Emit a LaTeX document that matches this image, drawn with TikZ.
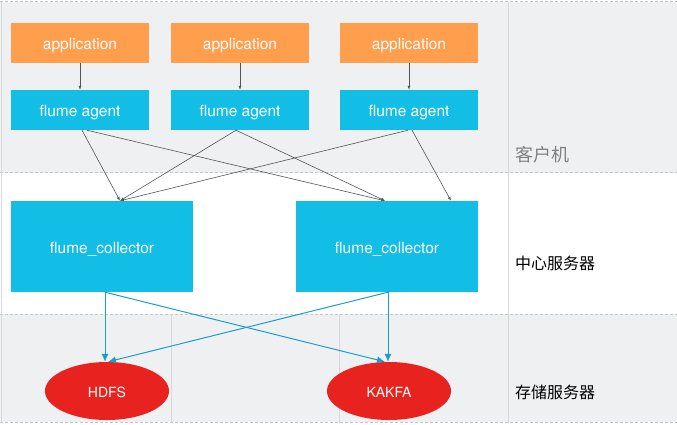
\documentclass[tikz,border=0pt]{standalone}
\usepackage{fontspec}
\setmainfont{TeX Gyre Heros}
\newfontfamily\cjk{Noto Sans CJK SC}
\usetikzlibrary{arrows.meta, shapes.geometric}
\definecolor{bandgray}{HTML}{EFF0F2}
\definecolor{apporange}{HTML}{FF9F4D}
\definecolor{flumeblue}{HTML}{12BDE6}
\definecolor{storered}{HTML}{E8231F}
\definecolor{linkblue}{HTML}{1A9FCB}
\definecolor{linkgray}{HTML}{555555}
\definecolor{rulegray}{HTML}{C8C8C8}

\begin{document}
\begin{tikzpicture}[x = 1pt, y = -1pt, >= {Latex[length = 4pt, width = 3pt]},
    appbox/.style = {fill = apporange, text = white, minimum width = 138pt, minimum height = 40pt, inner sep = 0pt, text height = 13pt, text depth = 0pt, font = \fontsize{15.5}{18}\selectfont},
    agentbox/.style = {appbox, fill = flumeblue},
    collbox/.style = {agentbox, minimum width = 182pt, minimum height = 91pt},
    storenode/.style = {ellipse, fill = storered, text = white, minimum width = 124pt, minimum height = 58pt, inner sep = 0pt, text height = 12pt, text depth = 0pt, font = \fontsize{14}{16}\selectfont},
    zonelabel/.style = {anchor = west, inner sep = 0pt, font = \cjk\fontsize{16}{18}\selectfont},
    sepline/.style = {rulegray, dash pattern = on 3pt off 2pt},
    agentlink/.style = {->, linkgray, line width = .6pt},
    colllink/.style = {->, linkblue, line width = 1pt, >= {Latex[length = 8pt, width = 7pt]}}]

    \useasboundingbox (0, 0) rectangle (677, 424);
    \fill [bandgray] (0, 1.5) rectangle (677, 172.5);
    \fill [bandgray] (0, 314) rectangle (677, 422);
    \draw [sepline] (0, 1.5) -- (677, 1.5);
    \draw [sepline] (0, 172.5) -- (677, 172.5);
    \draw [sepline] (0, 314) -- (677, 314);
    \draw [sepline] (0, 422.5) -- (677, 422.5);
    \draw [gray!30] (1, 1.5) -- (1, 422.5);
    \draw [gray!30] (508, 1.5) -- (508, 422.5);
    \draw [gray!30] (171, 314) -- (171, 422.5);
    \draw [gray!30] (339, 314) -- (339, 422.5);

    \node [appbox] (app1) at (80, 43) {application};
    \node [appbox] (app2) at (240, 43) {application};
    \node [appbox] (app3) at (409, 43) {application};
    \node [agentbox] (agent1) at (80, 110) {flume agent};
    \node [agentbox] (agent2) at (240, 110) {flume agent};
    \node [agentbox] (agent3) at (409, 110) {flume agent};
    \node [collbox] (coll1) at (102, 246.5) {flume\_collector};
    \node [collbox] (coll2) at (387, 246.5) {flume\_collector};
    \node [storenode] (hdfs) at (107, 391) {HDFS};
    \node [storenode] (kakfa) at (389, 391) {KAKFA};

    \node [zonelabel, text = black!50, font = \cjk\fontsize{18}{20}\selectfont] (client) at (515, 155) {客户机};
    \node [zonelabel] (center) at (515, 263) {中心服务器};
    \node [zonelabel] (storage) at (515, 392) {存储服务器};

    \draw [agentlink] (app1) -- (agent1);
    \draw [agentlink] (app2) -- (agent2);
    \draw [agentlink] (app3) -- (agent3);

    \draw [agentlink] ([xshift = 2]agent1.south) -- ([xshift = 18]coll1.north);
    \draw [agentlink] ([xshift = 7]agent1.south) -- ([xshift = -2]coll2.north);
    \draw [agentlink] ([xshift = -4]agent2.south) -- ([xshift = 18]coll1.north);
    \draw [agentlink] ([xshift = -4]agent2.south) -- ([xshift = -2]coll2.north);
    \draw [agentlink] ([xshift = -1]agent3.south) -- ([xshift = 18]coll1.north);
    \draw [agentlink] ([xshift = 3]agent3.south) -- ([xshift = 64]coll2.north);

    \coordinate (out1) at ([xshift = 3]coll1.south);
    \coordinate (out2) at ([xshift = 1]coll2.south);
    \draw [colllink] (out1) -- (out1 |- hdfs.north);
    \draw [colllink] (out1) -- ([xshift = -4]kakfa.north);
    \draw [colllink] (out2) -- (out2 |- kakfa.north);
    \draw [colllink] (out2) -- ([xshift = 1]hdfs.north);
\end{tikzpicture}
\end{document}
